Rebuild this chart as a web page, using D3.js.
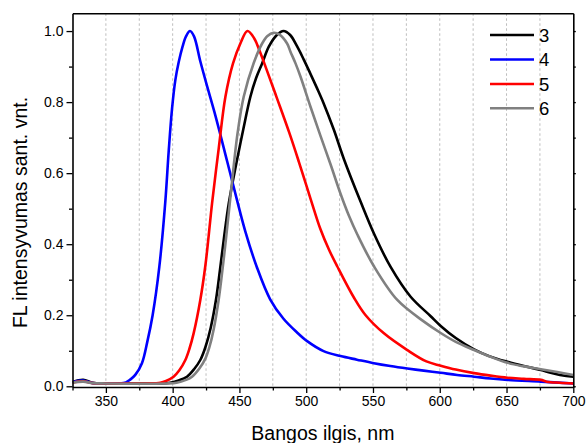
<!DOCTYPE html>
<html>
<head>
<meta charset="utf-8">
<script src="https://cdn.jsdelivr.net/npm/d3@7"></script>
<style>
  html, body { margin: 0; padding: 0; background: #fff; }
  svg { display: block; font-family: Arial, "Liberation Sans", sans-serif; }
</style>
</head>
<body>
<svg id="chart" width="587" height="443"></svg>
<script>
// ---- Data ----
const seriesNames = ["3", "4", "5", "6"];
const seriesColors = ["#000000", "#0000ff", "#ff0000", "#808080"];

const wl3 = [325, 333, 340, 350, 370, 390, 398, 405, 410.7, 416, 420.7, 424.5, 428.5, 432.5, 435.5, 438.5, 442, 447.7, 452.7, 458.2, 462.5, 467, 472, 478, 483, 488, 493, 498, 503, 508, 513, 520.7, 528.2, 540.7, 550.7, 563.2, 578.2, 593, 600.7, 612, 625.7, 637, 650.7, 663, 675.7, 683, 690, 700];
const fl3 = [0.012, 0.018, 0.010, 0.008, 0.008, 0.008, 0.010, 0.017, 0.027, 0.048, 0.074, 0.110, 0.165, 0.245, 0.330, 0.420, 0.515, 0.628, 0.720, 0.815, 0.868, 0.909, 0.956, 0.989, 1.000, 0.989, 0.958, 0.921, 0.881, 0.840, 0.797, 0.722, 0.640, 0.520, 0.430, 0.336, 0.252, 0.198, 0.170, 0.136, 0.104, 0.085, 0.069, 0.057, 0.046, 0.038, 0.032, 0.027];

const wl4 = [325, 333, 340, 350, 360, 365, 368, 372, 377, 381, 385, 390, 394.5, 397, 399.5, 402, 404.5, 407.4, 410, 413, 416, 420.7, 426, 432, 440.7, 448, 454.5, 463, 473, 483, 493, 500.7, 513, 525.7, 538, 550.7, 563, 575.7, 588, 600.7, 613, 625.7, 638, 650.7, 675.7, 700];
const fl4 = [0.012, 0.016, 0.009, 0.008, 0.008, 0.011, 0.018, 0.032, 0.065, 0.125, 0.200, 0.336, 0.520, 0.660, 0.780, 0.862, 0.912, 0.956, 0.985, 1.000, 0.985, 0.915, 0.842, 0.762, 0.635, 0.527, 0.435, 0.336, 0.245, 0.190, 0.152, 0.127, 0.099, 0.085, 0.075, 0.065, 0.057, 0.050, 0.044, 0.038, 0.032, 0.027, 0.022, 0.018, 0.013, 0.008];

const wl5 = [325, 333, 340, 350, 380, 390.7, 395, 400.7, 405, 409.5, 412.5, 415.7, 420.7, 424.5, 427, 429.5, 434.5, 439.5, 445.2, 450.7, 456, 461, 465, 470, 478, 487.5, 494.5, 503.5, 510.7, 517, 523.2, 535.7, 544.5, 558.2, 575.7, 590, 600.7, 612, 625.7, 638, 650.7, 663, 675.7, 680, 690, 700];
const fl5 = [0.010, 0.014, 0.009, 0.008, 0.008, 0.010, 0.015, 0.027, 0.045, 0.074, 0.105, 0.149, 0.243, 0.340, 0.425, 0.515, 0.670, 0.815, 0.909, 0.965, 1.000, 0.980, 0.945, 0.895, 0.812, 0.712, 0.632, 0.525, 0.442, 0.385, 0.338, 0.250, 0.200, 0.149, 0.102, 0.070, 0.058, 0.047, 0.037, 0.030, 0.024, 0.021, 0.018, 0.013, 0.010, 0.008];

const wl6 = [325, 333, 340, 350, 395, 403, 410, 414.5, 420, 424.5, 427.5, 430.7, 434.5, 437.5, 440.2, 443, 445.7, 448.7, 453.2, 460.7, 467, 471, 475.5, 480, 485.7, 488.2, 492, 495.7, 503.2, 510.7, 518.2, 525.7, 532, 538.2, 550.7, 568.2, 588.2, 600.7, 612, 625.7, 638, 650.7, 663, 675.7, 688, 700];
const fl6 = [0.010, 0.013, 0.009, 0.008, 0.008, 0.010, 0.018, 0.027, 0.050, 0.078, 0.110, 0.160, 0.245, 0.335, 0.425, 0.524, 0.620, 0.715, 0.815, 0.910, 0.965, 0.986, 0.995, 0.990, 0.965, 0.942, 0.909, 0.872, 0.787, 0.705, 0.625, 0.542, 0.480, 0.428, 0.338, 0.243, 0.182, 0.150, 0.125, 0.102, 0.083, 0.066, 0.056, 0.048, 0.040, 0.032];

const xTickValues = [350, 400, 450, 500, 550, 600, 650, 700];
const xMinorTicks = [325, 375, 425, 475, 525, 575, 625, 675];
const yTickValues = [0.0, 0.2, 0.4, 0.6, 0.8, 1.0];
const yMinorTicks = [0.1, 0.3, 0.5, 0.7, 0.9];
const gridValues = [350, 375, 400, 425, 450, 475, 500, 525, 550, 575, 600, 625, 650, 675];
const xTitle = "Bangos ilgis, nm";
const yTitle = "FL intensyvumas sant. vnt.";

const wls = [wl3, wl4, wl5, wl6];
const fls = [fl3, fl4, fl5, fl6];

// ---- Layout ----
const L = 72.5, R = 573.3, T = 13.3, B = 387;
const svg = d3.select("#chart");

const x = d3.scaleLinear().domain([325, 700]).range([L, R]);
const y = d3.scaleLinear().domain([-0.002, 1.05]).range([B, T]);

// grid
svg.append("g").selectAll("line").data(gridValues).join("line")
  .attr("x1", d => x(d)).attr("x2", d => x(d))
  .attr("y1", T).attr("y2", B)
  .attr("stroke", "#bdbdbd").attr("stroke-width", 1)
  .attr("stroke-dasharray", "2.5,2.5");

// curves
svg.append("clipPath").attr("id", "clip")
  .append("rect").attr("x", L).attr("y", T).attr("width", R - L).attr("height", B - T);

const line = d3.line().x(d => x(d[0])).y(d => y(d[1])).curve(d3.curveCatmullRom.alpha(0.5));
const gLines = svg.append("g").attr("clip-path", "url(#clip)");
seriesNames.forEach((name, i) => {
  const pts = wls[i].map((w, k) => [w, fls[i][k]]);
  gLines.append("path").datum(pts)
    .attr("d", line)
    .attr("fill", "none")
    .attr("stroke", seriesColors[i])
    .attr("stroke-width", 2.6)
    .attr("stroke-linejoin", "round");
});

// axes
const axisStyle = g => {
  g.selectAll("path.domain").attr("stroke", "#000").attr("stroke-width", 1.6);
  g.selectAll(".tick line").attr("stroke", "#000").attr("stroke-width", 1.3);
  g.selectAll(".tick text").attr("font-family", "Arial, 'Liberation Sans', sans-serif").attr("font-size", 14).attr("fill", "#000");
};

const xAxis = svg.append("g").attr("transform", `translate(0,${B})`)
  .call(d3.axisBottom(x).tickValues(xTickValues).tickSize(6).tickSizeOuter(0).tickPadding(3).tickFormat(d3.format("d")));
axisStyle(xAxis);
svg.append("g").attr("transform", `translate(0,${B})`)
  .call(d3.axisBottom(x).tickValues(xMinorTicks).tickSize(3.5).tickSizeOuter(0).tickFormat(""))
  .call(g => { g.select(".domain").remove(); axisStyle(g); });

const yAxis = svg.append("g").attr("transform", `translate(${L},0)`)
  .call(d3.axisLeft(y).tickValues(yTickValues).tickSize(6).tickSizeOuter(0).tickPadding(3).tickFormat(d3.format(".1f")));
axisStyle(yAxis);
svg.append("g").attr("transform", `translate(${L},0)`)
  .call(d3.axisLeft(y).tickValues(yMinorTicks).tickSize(3.5).tickSizeOuter(0).tickFormat(""))
  .call(g => { g.select(".domain").remove(); axisStyle(g); });

// right axis (ticks only)
svg.append("g").attr("transform", `translate(${R},0)`)
  .call(d3.axisRight(y).tickValues(yTickValues.concat(yMinorTicks)).tickSize(2.5).tickSizeOuter(0).tickFormat(""))
  .call(axisStyle);
// top axis
svg.append("g").attr("transform", `translate(0,${T})`)
  .call(d3.axisTop(x).tickValues([]).tickSizeOuter(0))
  .call(axisStyle);

// titles
svg.append("text")
  .attr("x", (L + R) / 2).attr("y", 440)
  .attr("text-anchor", "middle")
  .attr("font-size", 19.5).attr("fill", "#000")
  .text(xTitle);
svg.append("text")
  .attr("transform", `translate(26.7,212.5) rotate(-90)`)
  .attr("text-anchor", "middle")
  .attr("font-size", 19.5).attr("fill", "#000")
  .text(yTitle);

// legend
const legRows = [35, 59.5, 84, 108.3];
const leg = svg.append("g");
seriesNames.forEach((name, i) => {
  leg.append("line")
    .attr("x1", 490).attr("x2", 534)
    .attr("y1", legRows[i]).attr("y2", legRows[i])
    .attr("stroke", seriesColors[i]).attr("stroke-width", 2.6);
  leg.append("text")
    .attr("x", 539).attr("y", legRows[i] + 6.7)
    .attr("font-size", 18.5).attr("fill", "#000")
    .text(name);
});
</script>
</body>
</html>
